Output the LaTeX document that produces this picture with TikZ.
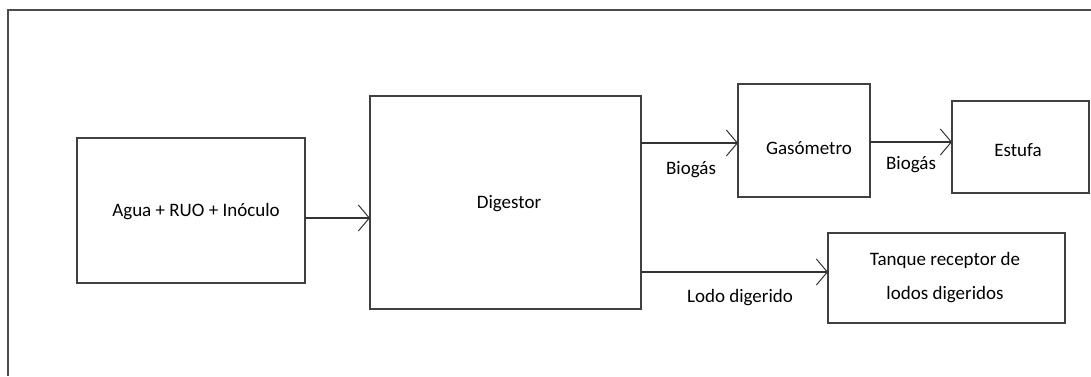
\documentclass[tikz,border=0pt]{standalone}
\usepackage{fontspec}
\setmainfont{Carlito}
\usetikzlibrary{arrows.meta}
\begin{document}
\begin{tikzpicture}[x=1pt,y=-1pt,
  blk/.style={draw=black!75,line width=1.6pt,inner sep=0pt},
  conn/.style={draw=black!80,line width=1.2pt,-{Straight Barb[length=11pt,width=26pt,line width=1pt]}},
  lbl/.style={font=\fontsize{19}{22}\selectfont,text=black}]
\useasboundingbox (0,0) rectangle (1091,376);
\draw[draw=black!70,line width=2.2pt] (1091,10) -- (8,10) -- (8,376);
\path[blk] (77,138) rectangle (305,283);
\node[lbl] (agua) at (196,212) {Agua + RUO + Inóculo};
\coordinate (aguaE) at (305,218);
\path[blk] (370,96) rectangle (641,309);
\node[lbl] (dig) at (509,204) {Digestor};
\coordinate (digW) at (370,218);
\coordinate (digE1) at (641,143);
\coordinate (digE2) at (641,272);
\path[blk] (738,84) rectangle (870,197);
\node[lbl] (gas) at (809,148) {Gasómetro};
\coordinate (gasW) at (738,143);
\coordinate (gasE) at (870,142);
\path[blk] (952,101) rectangle (1089,193);
\node[lbl] (est) at (1018,150) {Estufa};
\coordinate (estW) at (952,142);
\path[blk] (828,233) rectangle (1065,323);
\node[lbl,align=center] (tq) at (945,278) {Tanque receptor de\\[12pt]lodos digeridos};
\coordinate (tqW) at (828,272);
\draw[conn] (aguaE) -- (digW);
\draw[conn] (digE1) -- (gasW);
\draw[conn] (gasE) -- (estW);
\draw[conn] (digE2) -- (tqW);
\node[lbl] (b1) at (691,170) {Biogás};
\node[lbl] (b2) at (911,165) {Biogás};
\node[lbl] (ld) at (740,298) {Lodo digerido};
\end{tikzpicture}
\end{document}
